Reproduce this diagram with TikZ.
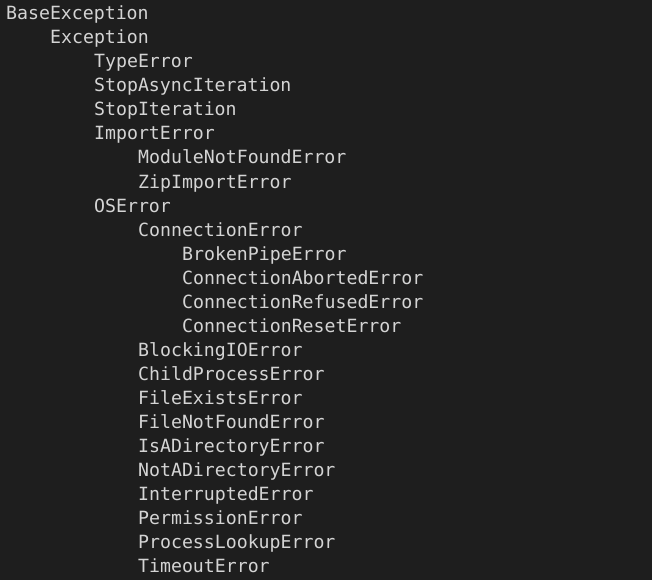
\documentclass[tikz,border=0pt]{standalone}
\usepackage{fontspec}
\newfontfamily\codefont{DejaVu Sans Mono}
\definecolor{bgdark}{HTML}{1E1E1E}
\definecolor{codefg}{HTML}{D4D4D4}
\begin{document}
\begin{tikzpicture}[x=1pt,y=-1pt,
  item/.style={anchor=base west,inner sep=0pt,text=codefg,font=\codefont\fontsize{18.2}{20}\selectfont}]
\fill[bgdark] (0,0) rectangle (652,580);
\useasboundingbox (0,0) rectangle (652,580);
\node[item] (n1)  at (6,20)  {BaseException};
\node[item] (n2)  at (50,44)  {Exception};
\node[item] (n3)  at (94,68)  {TypeError};
\node[item] (n4)  at (94,92)  {StopAsyncIteration};
\node[item] (n5)  at (94,116) {StopIteration};
\node[item] (n6)  at (94,140) {ImportError};
\node[item] (n7)  at (138,164) {ModuleNotFoundError};
\node[item] (n8)  at (138,188) {ZipImportError};
\node[item] (n9)  at (94,212) {OSError};
\node[item] (n10) at (138,236) {ConnectionError};
\node[item] (n11) at (182,260) {BrokenPipeError};
\node[item] (n12) at (182,284) {ConnectionAbortedError};
\node[item] (n13) at (182,308) {ConnectionRefusedError};
\node[item] (n14) at (182,332) {ConnectionResetError};
\node[item] (n15) at (138,356) {BlockingIOError};
\node[item] (n16) at (138,380) {ChildProcessError};
\node[item] (n17) at (138,404) {FileExistsError};
\node[item] (n18) at (138,428) {FileNotFoundError};
\node[item] (n19) at (138,452) {IsADirectoryError};
\node[item] (n20) at (138,476) {NotADirectoryError};
\node[item] (n21) at (138,500) {InterruptedError};
\node[item] (n22) at (138,524) {PermissionError};
\node[item] (n23) at (138,548) {ProcessLookupError};
\node[item] (n24) at (138,572) {TimeoutError};
\end{tikzpicture}
\end{document}
